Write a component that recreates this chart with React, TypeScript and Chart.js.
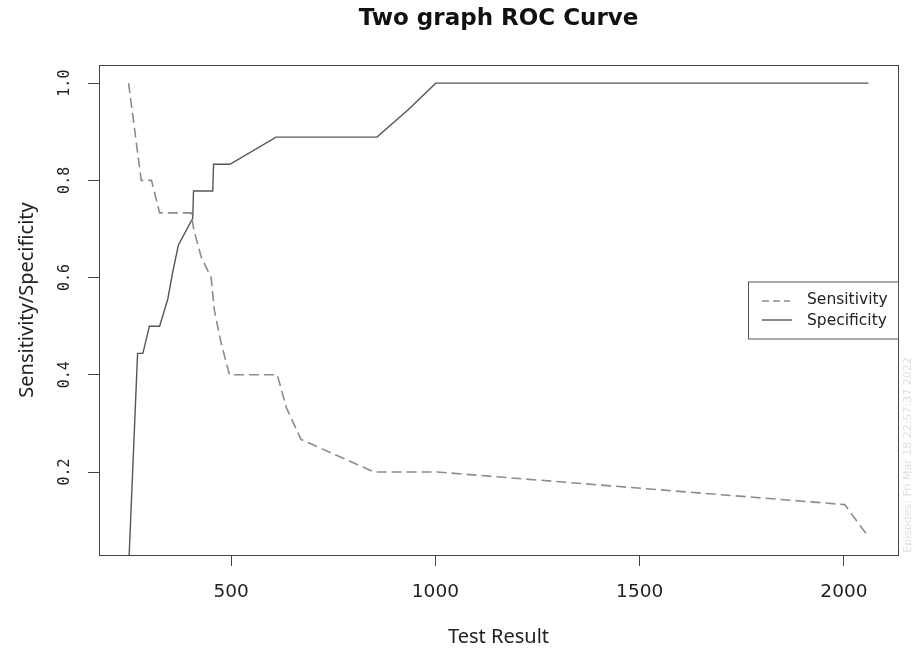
import React, { useEffect, useRef } from "react";
import { Chart, registerables } from "chart.js";

Chart.register(...registerables);

const chartTitle = "Two graph ROC Curve";
const xAxisTitle = "Test Result";
const yAxisTitle = "Sensitivity/Specificity";
const seriesNames = ["Sensitivity", "Specificity"];
const watermarkText = "Episodes: Fri Mar 18 22:57:37 2022";

const xTickValues = [500, 1000, 1500, 2000];
const yTickValues = [0.2, 0.4, 0.6, 0.8, 1.0];
const yTickLabels = ["0.2", "0.4", "0.6", "0.8", "1.0"];

const xRange = [176.6, 2132.4];
const yRange = [0.0293, 1.0373];

const sensitivityX = [249, 280, 305, 325, 402, 409, 427, 451, 459, 475, 496, 613, 635, 671, 850, 1005, 2002, 2060];
const sensitivityY = [1.0, 0.8, 0.8, 0.733, 0.733, 0.697, 0.642, 0.6, 0.533, 0.467, 0.4, 0.4, 0.333, 0.267, 0.2, 0.2, 0.133, 0.0667];

const specificityX = [249, 271, 284, 300, 325, 345, 357, 371, 406, 408, 455, 457, 497, 610, 857, 932, 1001, 2060];
const specificityY = [0, 0.444, 0.444, 0.5, 0.5, 0.556, 0.611, 0.667, 0.722, 0.778, 0.778, 0.833, 0.833, 0.889, 0.889, 0.944, 1.0, 1.0];

const sensColor = "#8c8c8c";
const specColor = "#555555";
const axisColor = "#444444";

const decorPlugin = {
  id: "decor",
  afterDraw(chart: any) {
    const { ctx, chartArea } = chart;
    const { left, right, top, bottom } = chartArea;
    ctx.save();
    // box
    ctx.strokeStyle = axisColor;
    ctx.lineWidth = 1;
    ctx.strokeRect(left + 0.5, top + 0.5, right - left, bottom - top);

    // title
    ctx.fillStyle = "#111";
    ctx.font = "bold 23px 'DejaVu Sans'";
    ctx.textAlign = "center";
    ctx.textBaseline = "middle";
    ctx.fillText(chartTitle, (left + right) / 2, 19);

    // y axis title
    ctx.save();
    ctx.translate(27, 300);
    ctx.rotate(-Math.PI / 2);
    ctx.font = "20px 'Noto Sans'";
    ctx.fillStyle = "#222";
    ctx.textAlign = "center";
    ctx.textBaseline = "middle";
    ctx.fillText(yAxisTitle, 0, 0);
    ctx.restore();

    // y tick labels (rotated)
    const yScale = chart.scales.y;
    ctx.font = "15px 'DejaVu Sans Mono'";
    ctx.fillStyle = "#222";
    yTickValues.forEach((v, i) => {
      const py = yScale.getPixelForValue(v);
      ctx.save();
      ctx.translate(left - 34, py);
      ctx.rotate(-Math.PI / 2);
      ctx.textAlign = "center";
      ctx.textBaseline = "middle";
      ctx.fillText(yTickLabels[i], 0, 0);
      ctx.restore();
    });

    // legend
    const lw = 150;
    const lh = 57;
    const lx = right - lw;
    const ly = (top + bottom) / 2 - lh / 2;
    ctx.strokeStyle = "#555";
    ctx.lineWidth = 1;
    ctx.strokeRect(lx + 0.5, ly + 0.5, lw, lh);
    ctx.lineWidth = 1.6;
    ctx.strokeStyle = sensColor;
    ctx.setLineDash([7, 4]);
    ctx.beginPath();
    ctx.moveTo(lx + 14, ly + 19.5);
    ctx.lineTo(lx + 42, ly + 19.5);
    ctx.stroke();
    ctx.setLineDash([]);
    ctx.strokeStyle = specColor;
    ctx.lineWidth = 1.4;
    ctx.beginPath();
    ctx.moveTo(lx + 14, ly + 38.5);
    ctx.lineTo(lx + 44, ly + 38.5);
    ctx.stroke();
    ctx.fillStyle = "#222";
    ctx.font = "15.5px 'DejaVu Sans'";
    ctx.textAlign = "left";
    ctx.textBaseline = "middle";
    ctx.fillText(seriesNames[0], lx + 59, ly + 18.5);
    ctx.fillText(seriesNames[1], lx + 59, ly + 39.5);

    // watermark
    ctx.save();
    ctx.translate(908, 455);
    ctx.rotate(-Math.PI / 2);
    ctx.fillStyle = "#e0e0e0";
    ctx.font = "11px 'DejaVu Sans'";
    ctx.textAlign = "center";
    ctx.textBaseline = "middle";
    ctx.fillText(watermarkText, 0, 0);
    ctx.restore();

    ctx.restore();
  },
};

export default function App() {
  const canvasRef = useRef<HTMLCanvasElement | null>(null);

  useEffect(() => {
    const canvas = canvasRef.current;
    if (!canvas) return;
    const chart = new Chart(canvas, {
      type: "line",
      data: {
        datasets: [
          {
            label: seriesNames[0],
            data: sensitivityX.map((x, i) => ({ x, y: sensitivityY[i] })),
            borderColor: sensColor,
            borderWidth: 1.6,
            borderDash: [10, 5],
            pointRadius: 0,
            tension: 0,
            fill: false,
          },
          {
            label: seriesNames[1],
            data: specificityX.map((x, i) => ({ x, y: specificityY[i] })),
            borderColor: specColor,
            borderWidth: 1.4,
            pointRadius: 0,
            tension: 0,
            fill: false,
          },
        ],
      },
      options: {
        animation: false,
        responsive: false,
        devicePixelRatio: 1,
        layout: { padding: { top: 65, right: 17, left: 0, bottom: 0 } },
        plugins: {
          legend: { display: false },
          title: { display: false },
          tooltip: { enabled: false },
        },
        scales: {
          x: {
            type: "linear",
            min: xRange[0],
            max: xRange[1],
            afterBuildTicks: (scale: any) => {
              scale.ticks = xTickValues.map((v) => ({ value: v }));
            },
            afterFit: (scale: any) => {
              scale.height = 94;
            },
            ticks: {
              font: { family: "'DejaVu Sans'", size: 18.5 },
              color: "#222",
              padding: 15,
              maxRotation: 0,
              callback: (v: any) => String(v),
            },
            grid: {
              drawOnChartArea: false,
              drawTicks: true,
              tickLength: 11,
              color: axisColor,
              lineWidth: 1,
            },
            border: { display: true, color: axisColor, width: 1 },
            title: {
              display: true,
              text: xAxisTitle,
              font: { family: "'Noto Sans'", size: 20 },
              color: "#222",
              padding: { top: 0, bottom: 0 },
            },
          },
          y: {
            type: "linear",
            min: yRange[0],
            max: yRange[1],
            afterBuildTicks: (scale: any) => {
              scale.ticks = yTickValues.map((v) => ({ value: v }));
            },
            afterFit: (scale: any) => {
              scale.width = 99;
            },
            ticks: { display: false },
            grid: {
              drawOnChartArea: false,
              drawTicks: true,
              tickLength: 11,
              color: axisColor,
              lineWidth: 1,
            },
            border: { display: true, color: axisColor, width: 1 },
            title: { display: false },
          },
        },
      },
      plugins: [decorPlugin],
    });
    return () => chart.destroy();
  }, []);

  return (
    <div style={{ position: "absolute", left: 0, top: 0, width: 915, height: 649, background: "#fff" }}>
      <canvas ref={canvasRef} width={915} height={649} style={{ display: "block" }} />
    </div>
  );
}
